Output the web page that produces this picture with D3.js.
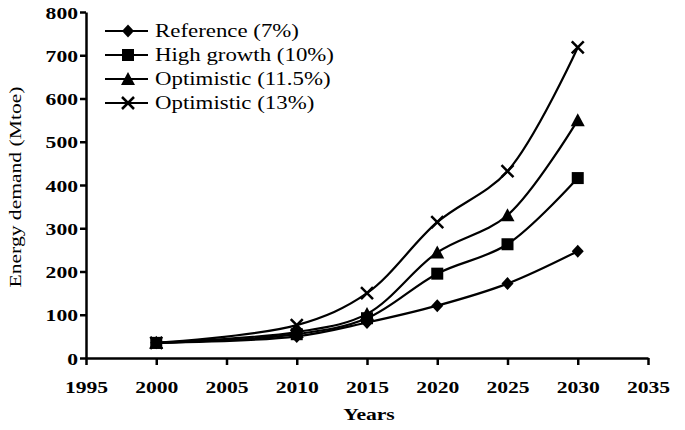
<!DOCTYPE html>
<html>
<head>
<meta charset="utf-8">
<script src="https://cdn.jsdelivr.net/npm/d3@7"></script>
<style>
  body { margin: 0; background: #fff; }
  svg { display: block; }
  text { font-family: "Liberation Serif", "Times New Roman", serif; fill: #000; }
</style>
</head>
<body>
<div id="chart"></div>
<script>
const years = [2000, 2010, 2015, 2020, 2025, 2030];
const reference = [35, 50, 82, 121, 172, 247];
const highGrowth = [35, 55, 92, 195, 263, 416];
const optimistic115 = [35, 60, 102, 244, 330, 550];
const optimistic13 = [35, 76, 150, 314, 432, 718];
const seriesNames = ['Reference (7%)', 'High growth (10%)', 'Optimistic (11.5%)', 'Optimistic (13%)'];
const xTicks = [1995, 2000, 2005, 2010, 2015, 2020, 2025, 2030, 2035];
const yTicks = [0, 100, 200, 300, 400, 500, 600, 700, 800];

const width = 685, height = 430;
const margin = { left: 86, right: 648, top: 12, bottom: 358 };
const stretch = 1.27; // text in the picture is wide

const svg = d3.select('#chart').append('svg')
  .attr('width', width)
  .attr('height', height)
  .attr('font-family', '"Liberation Serif", serif');

const x = d3.scaleLinear().domain([1995, 2035]).range([margin.left, margin.right]);
const y = d3.scaleLinear().domain([0, 800]).range([margin.bottom, margin.top]);

// axes
const xAxis = svg.append('g')
  .attr('transform', 'translate(0,' + margin.bottom + ')')
  .call(d3.axisBottom(x).tickValues(xTicks).tickFormat(d3.format('d')).tickSize(7).tickSizeOuter(0));
const yAxis = svg.append('g')
  .attr('transform', 'translate(' + margin.left + ',0)')
  .call(d3.axisLeft(y).tickValues(yTicks).tickSize(6).tickSizeOuter(0));

[xAxis, yAxis].forEach((g) => {
  g.attr('font-family', '"Liberation Serif", serif');
  g.select('.domain').attr('stroke', '#000').attr('stroke-width', 2.5);
  g.selectAll('.tick line').attr('stroke', '#000').attr('stroke-width', 2.5);
  g.selectAll('text')
    .style('font-family', '"Liberation Serif", serif')
    .style('font-size', '17px')
    .style('font-weight', 'bold')
    .attr('fill', '#000');
});

// stretch tick labels horizontally
xAxis.selectAll('.tick text')
  .attr('y', null).attr('dy', null)
  .attr('transform', 'translate(0,35) scale(' + stretch + ',1)');
yAxis.selectAll('.tick text')
  .attr('x', null).attr('dy', null)
  .attr('transform', 'translate(-8,6) scale(' + stretch + ',1)');

// titles
svg.append('text')
  .attr('transform', 'translate(' + ((margin.left + margin.right) / 2 + 2) + ',420) scale(' + stretch + ',1)')
  .attr('text-anchor', 'middle')
  .attr('fill', '#000')
  .style('font-size', '17px')
  .style('font-weight', 'bold')
  .text('Years');

svg.append('text')
  .attr('transform', 'translate(21,' + ((margin.top + margin.bottom) / 2 + 2) + ') rotate(-90) scale(' + stretch + ',1)')
  .attr('text-anchor', 'middle')
  .attr('fill', '#000')
  .style('font-size', '17px')
  .text('Energy demand (Mtoe)');

// series
const series = [reference, highGrowth, optimistic115, optimistic13].map((vals, i) => ({
  name: seriesNames[i],
  symbol: i,
  points: years.map((yr, j) => ({ year: yr, value: vals[j] }))
}));

const line = d3.line()
  .x((d) => x(d.year))
  .y((d) => y(d.value))
  .curve(d3.curveCatmullRom.alpha(0.5));

function drawMarker(g, type) {
  if (type === 0) {
    g.append('path').attr('d', 'M0,-6.5L6,0L0,6.5L-6,0Z').attr('fill', '#000');
  } else if (type === 1) {
    g.append('rect').attr('x', -6).attr('y', -6).attr('width', 12).attr('height', 12).attr('fill', '#000');
  } else if (type === 2) {
    g.append('path').attr('d', 'M0,-7L7,6L-7,6Z').attr('fill', '#000');
  } else {
    g.append('path').attr('d', 'M-6,-6L6,6M-6,6L6,-6').attr('stroke', '#000').attr('stroke-width', 2.5);
  }
}

// draw high growth last so its square sits on top at 2000
[0, 2, 3, 1].forEach((i) => {
  const s = series[i];
  svg.append('path')
    .datum(s.points)
    .attr('fill', 'none')
    .attr('stroke', '#000')
    .attr('stroke-width', 2.2)
    .attr('d', line);
  s.points.forEach((p) => {
    const g = svg.append('g').attr('transform', 'translate(' + x(p.year) + ',' + y(p.value) + ')');
    drawMarker(g, s.symbol);
  });
});

// legend
const legendRows = [31, 55, 79, 103];
series.forEach((s, i) => {
  const ly = legendRows[i];
  svg.append('line')
    .attr('x1', 105).attr('x2', 148)
    .attr('y1', ly).attr('y2', ly)
    .attr('stroke', '#000').attr('stroke-width', 2.2);
  const g = svg.append('g').attr('transform', 'translate(128,' + ly + ')');
  drawMarker(g, s.symbol);
  svg.append('text')
    .attr('transform', 'translate(155,' + (ly + 6) + ') scale(' + stretch + ',1)')
    .attr('fill', '#000')
    .style('font-size', '18px')
    .text(s.name);
});
</script>
</body>
</html>
